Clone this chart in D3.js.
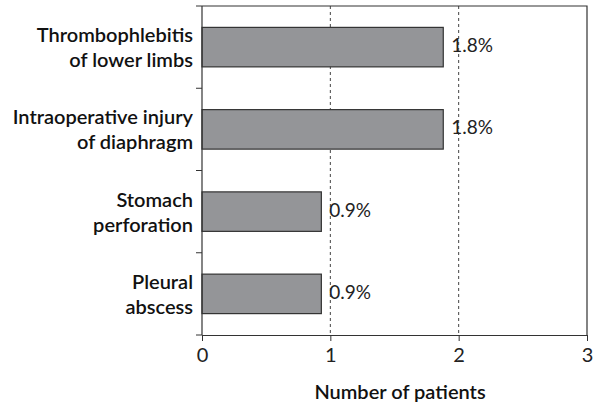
<!DOCTYPE html>
<html lang="en">
<head>
    <meta charset="UTF-8">
    <title>Complications</title>
    <script src="https://cdnjs.cloudflare.com/ajax/libs/d3/7.8.5/d3.min.js"></script>
    <style>
        body { margin: 0; background: white; }
        .cat { font-family: Lato, "Open Sans", sans-serif; font-weight: 600; font-size: 20px; fill: #111; }
        .val { font-family: Lato, "Open Sans", sans-serif; font-weight: 400; font-size: 19px; fill: #222; }
        .tick text { font-family: Lato, "Open Sans", sans-serif; font-weight: 400; font-size: 20px; fill: #222; }
    </style>
</head>
<body>
<svg id="chart"></svg>
<script>
    const categories = [
        ["Thrombophlebitis", "of lower limbs"],
        ["Intraoperative injury", "of diaphragm"],
        ["Stomach", "perforation"],
        ["Pleural", "abscess"]
    ];
    const values = [1.88, 1.88, 0.93, 0.93];
    const valueLabels = ["1.8%", "1.8%", "0.9%", "0.9%"];
    const xTicks = [0, 1, 2, 3];

    const width = 597, height = 405;
    const mLeft = 202, mRight = 587, mTop = 6, mBottom = 335;

    const svg = d3.select("#chart").attr("width", width).attr("height", height);

    const x = d3.scaleLinear().domain([0, 3]).range([mLeft, mRight]);
    const y = d3.scaleBand().domain(d3.range(categories.length)).range([mTop, mBottom]).paddingInner(0.52).paddingOuter(0.26);
    const band = d3.scaleBand().domain(d3.range(categories.length)).range([mTop, mBottom]);

    // dashed grid
    svg.selectAll("line.grid")
        .data([1, 2])
        .join("line")
        .attr("class", "grid")
        .attr("x1", d => x(d)).attr("x2", d => x(d))
        .attr("y1", mTop).attr("y2", mBottom)
        .attr("stroke", "#444")
        .attr("stroke-width", 1)
        .attr("stroke-dasharray", "3,3");

    // frame top/right
    svg.append("path")
        .attr("d", `M${mLeft},${mTop}H${mRight}V${mBottom}`)
        .attr("fill", "none")
        .attr("stroke", "#333")
        .attr("stroke-width", 1.2);

    svg.selectAll("rect")
        .data(values)
        .join("rect")
        .attr("x", x(0))
        .attr("y", (d, i) => y(i))
        .attr("width", d => x(d) - x(0))
        .attr("height", y.bandwidth())
        .attr("fill", "#949598")
        .attr("stroke", "#333")
        .attr("stroke-width", 1.2);

    svg.selectAll("text.val")
        .data(values)
        .join("text")
        .attr("class", "val")
        .attr("x", d => x(d) + 8)
        .attr("y", (d, i) => y(i) + y.bandwidth() / 2 + 5)
        .text((d, i) => valueLabels[i]);

    // x axis
    svg.append("g")
        .attr("transform", `translate(0,${mBottom})`)
        .call(d3.axisBottom(x).tickValues(xTicks).tickFormat(d3.format("d")).tickSize(6).tickSizeOuter(0).tickPadding(7))
        .call(g => g.select(".domain").attr("stroke", "#333").attr("stroke-width", 1.2))
        .call(g => g.selectAll(".tick line").attr("stroke", "#333"));

    // y axis: ticks at band boundaries
    svg.append("line")
        .attr("x1", mLeft).attr("x2", mLeft)
        .attr("y1", mTop).attr("y2", mBottom)
        .attr("stroke", "#333").attr("stroke-width", 1.2);
    svg.selectAll("line.ytick")
        .data(d3.range(categories.length + 1))
        .join("line")
        .attr("class", "ytick")
        .attr("x1", mLeft - 6).attr("x2", mLeft)
        .attr("y1", d => mTop + d * band.bandwidth())
        .attr("y2", d => mTop + d * band.bandwidth())
        .attr("stroke", "#333");

    const labels = svg.selectAll("text.cat")
        .data(categories)
        .join("text")
        .attr("class", "cat")
        .attr("text-anchor", "end")
        .attr("x", mLeft - 9)
        .attr("y", (d, i) => y(i) + y.bandwidth() / 2 - 5);
    labels.selectAll("tspan")
        .data(d => d)
        .join("tspan")
        .attr("x", mLeft - 9)
        .attr("dy", (d, i) => i === 0 ? 0 : 25)
        .text(d => d);

    svg.append("text")
        .attr("class", "cat")
        .attr("text-anchor", "middle")
        .attr("x", 400)
        .attr("y", 399)
        .text("Number of patients");
</script>
</body>
</html>
